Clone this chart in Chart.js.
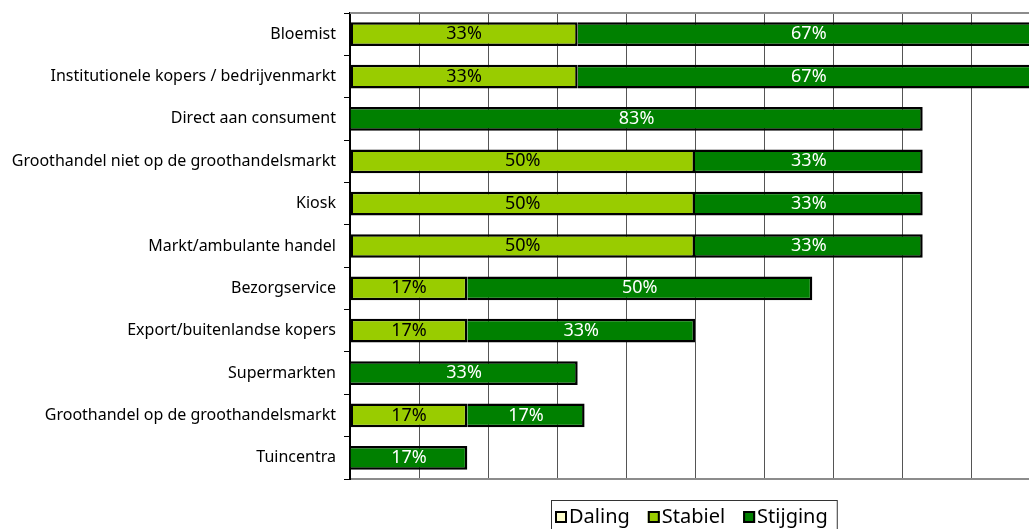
<!DOCTYPE html>
<html>
<head>
<meta charset="utf-8">
<script src="https://cdn.jsdelivr.net/npm/chart.js@4"></script>
<style>
  html, body { margin: 0; padding: 0; background: #fff; }
  #wrap { width: 1029px; height: 529px; overflow: hidden; }
</style>
</head>
<body>
<div id="wrap"><canvas id="afzetChart" width="1042" height="529"></canvas></div>
<script>
// Afzetkanalen en verwachte ontwikkeling (in %)
const kanalen = [
    'Bloemist',
    'Institutionele kopers / bedrijvenmarkt',
    'Direct aan consument',
    'Groothandel niet op de groothandelsmarkt',
    'Kiosk',
    'Markt/ambulante handel',
    'Bezorgservice',
    'Export/buitenlandse kopers',
    'Supermarkten',
    'Groothandel op de groothandelsmarkt',
    'Tuincentra'
];
const daling   = [0, 0, 0, 0, 0, 0, 0, 0, 0, 0, 0];
const stabiel  = [33, 33, 0, 50, 50, 50, 17, 17, 0, 17, 0];
const stijging = [67, 67, 83, 33, 33, 33, 50, 33, 33, 17, 17];

const lettertype = '"Noto Sans", sans-serif';

// Percentages midden in de balken
const balkLabels = {
    id: 'balkLabels',
    afterDatasetsDraw(chart) {
        const ctx = chart.ctx;
        ctx.save();
        ctx.font = '18px ' + lettertype;
        ctx.textAlign = 'center';
        ctx.textBaseline = 'middle';
        chart.data.datasets.forEach((ds, i) => {
            const meta = chart.getDatasetMeta(i);
            meta.data.forEach((bar, j) => {
                const v = ds.data[j];
                if (!v) return;
                const p = bar.getProps(['x', 'y', 'base'], true);
                ctx.fillStyle = ds.labelKleur;
                ctx.fillText(v + '%', (p.x + p.base) / 2, p.y);
            });
        });
        ctx.restore();
    }
};

// Bovenrand van het plotvlak en de legenda met kader
const kaderEnLegenda = {
    id: 'kaderEnLegenda',
    afterDraw(chart) {
        const ctx = chart.ctx;
        const area = chart.chartArea;
        ctx.save();

        ctx.strokeStyle = '#8c8c8c';
        ctx.lineWidth = 2;
        ctx.beginPath();
        ctx.moveTo(area.left, area.top);
        ctx.lineTo(area.right, area.top);
        ctx.stroke();

        ctx.font = '20px ' + lettertype;
        const box = 12, tekstGat = 2, itemGat = 18, randL = 4, randR = 9;
        const items = chart.data.datasets.map(ds => ({
            label: ds.label,
            kleur: ds.backgroundColor,
            w: box + tekstGat + ctx.measureText(ds.label).width
        }));
        const breedte = items.reduce((s, it) => s + it.w, 0) + itemGat * (items.length - 1) + randL + randR;
        const links = Math.round((area.left + area.right) / 2 - 1.5 - breedte / 2);
        const boven = area.bottom + 21;

        ctx.strokeStyle = '#333';
        ctx.lineWidth = 1;
        ctx.strokeRect(links + 0.5, boven + 0.5, breedte, 40);

        let x = links + randL;
        const midden = boven + 17;
        ctx.textBaseline = 'middle';
        items.forEach(it => {
            ctx.fillStyle = it.kleur;
            ctx.fillRect(x, midden - box / 2, box, box);
            ctx.strokeStyle = '#000';
            ctx.lineWidth = 2;
            ctx.strokeRect(x + 1, midden - box / 2 + 1, box - 2, box - 2);
            ctx.fillStyle = '#000';
            ctx.fillText(it.label, x + box + tekstGat, midden);
            x += it.w + itemGat;
        });
        ctx.restore();
    }
};

const ctx = document.getElementById('afzetChart').getContext('2d');

new Chart(ctx, {
    type: 'bar',
    data: {
        labels: kanalen,
        datasets: [
            { label: 'Daling',   data: daling,   backgroundColor: '#ffffcc', labelKleur: '#000', borderSkipped: false },
            { label: 'Stabiel',  data: stabiel,  backgroundColor: '#99cc00', labelKleur: '#000', borderSkipped: false },
            // linkerrand valt samen met de rechterrand van 'Stabiel'
            { label: 'Stijging', data: stijging, backgroundColor: '#008000', labelKleur: '#fff', borderSkipped: 'left' }
        ].map(ds => Object.assign(ds, {
            borderColor: '#000',
            borderWidth: 2.5,
            barPercentage: 0.56,
            categoryPercentage: 1
        }))
    },
    options: {
        indexAxis: 'y',
        responsive: false,
        devicePixelRatio: 1,
        animation: false,
        layout: { padding: { top: 13, right: 2, bottom: 50, left: 0 } },
        plugins: {
            legend: { display: false },
            tooltip: { enabled: false }
        },
        scales: {
            x: {
                stacked: true,
                min: 0,
                max: 100,
                ticks: { display: false, stepSize: 10 },
                grid: { color: '#555', drawTicks: false },
                border: { color: '#8c8c8c', width: 2 }
            },
            y: {
                stacked: true,
                ticks: { color: '#000', font: { family: lettertype, size: 16 }, padding: 8 },
                grid: { drawOnChartArea: false, color: '#000', tickLength: 6, offset: true },
                border: { color: '#000', width: 2 },
                afterFit(scale) {
                    scale.width = 350;
                    scale.paddingTop = 0;
                    scale.paddingBottom = 0;
                }
            }
        }
    },
    plugins: [balkLabels, kaderEnLegenda]
});
</script>
</body>
</html>
